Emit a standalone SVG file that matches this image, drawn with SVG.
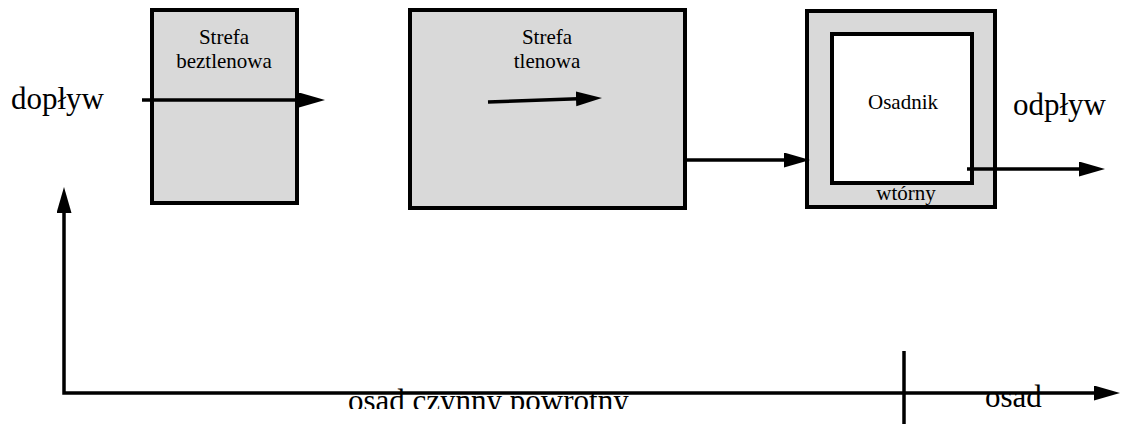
<svg xmlns="http://www.w3.org/2000/svg" width="1124" height="427" viewBox="0 0 1124 427">
<style>
.box{fill:#d9d9d9;stroke:#000;stroke-width:4}
.inner{fill:#fff;stroke:#000;stroke-width:4}
.lbl{font-family:"Liberation Serif","Times New Roman",serif;font-size:21px;fill:#000;text-anchor:middle}
.big{font-family:"Liberation Serif","Times New Roman",serif;font-size:31px;fill:#000}
.conn{fill:none;stroke:#000;stroke-width:3.5}
</style>
<defs>
<marker id="ah" markerUnits="userSpaceOnUse" markerWidth="26" markerHeight="16" refX="2" refY="7.5" orient="auto-start-reverse">
<path d="M0,0 L26,7.5 L0,15 z" fill="#000"/>
</marker>
<clipPath id="clipBottom"><rect x="0" y="0" width="1124" height="409"/></clipPath>
</defs>
<g id="strefa-beztlenowa">
<rect class="box" x="152" y="10" width="145" height="193"/>
<text class="lbl" x="224" y="44">Strefa</text>
<text class="lbl" x="224" y="68">beztlenowa</text>
</g>
<g id="strefa-tlenowa">
<rect class="box" x="410" y="10" width="275" height="198"/>
<text class="lbl" x="547" y="44">Strefa</text>
<text class="lbl" x="547" y="68">tlenowa</text>
</g>
<g id="osadnik">
<rect class="box" x="807" y="11" width="188" height="196"/>
<rect class="inner" x="832" y="34" width="140" height="149"/>
<text class="lbl" x="903" y="109">Osadnik</text>
<text class="lbl" x="906" y="200">wtórny</text>
</g>
<g id="labels">
<text class="big" x="11" y="109">dopływ</text>
<text class="big" x="1013" y="115">odpływ</text>
<text class="big" x="985" y="407">osad</text>
<text class="big" x="348" y="411" clip-path="url(#clipBottom)">osad czynny powrotny</text>
</g>
<g id="connectors">
<line class="conn" x1="142" y1="100" x2="301" y2="100" marker-end="url(#ah)"/>
<line class="conn" x1="488" y1="102" x2="578" y2="98.8" marker-end="url(#ah)"/>
<line class="conn" x1="685" y1="160" x2="786" y2="160" marker-end="url(#ah)"/>
<line class="conn" x1="967" y1="169" x2="1081" y2="169" marker-end="url(#ah)"/>
<path class="conn" d="M64,211 L64,393 L1096,393" stroke-width="4" marker-start="url(#ah)" marker-end="url(#ah)"/>
<line class="conn" x1="904" y1="351" x2="904" y2="424" stroke-width="3"/>
</g>
</svg>
